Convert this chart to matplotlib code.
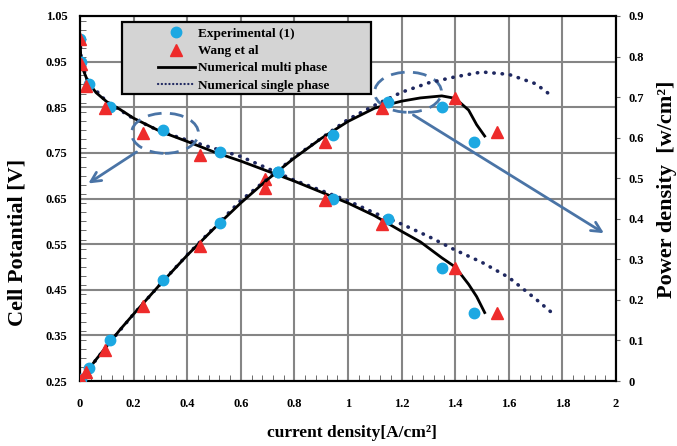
import matplotlib
matplotlib.use("Agg")
import matplotlib.pyplot as plt
from matplotlib.patches import Ellipse, Rectangle
from matplotlib.ticker import MultipleLocator, FuncFormatter
from matplotlib.lines import Line2D

plt.rcParams['font.family'] = ['Liberation Serif', 'DejaVu Serif']
plt.rcParams['font.weight'] = 'bold'

# experimental (1): current density, cell potential, power density
exp_i = [0.0, 0.005, 0.035, 0.112, 0.311, 0.522, 0.74, 0.945, 1.15, 1.35, 1.47]
exp_v = [1.0, 0.95, 0.90, 0.85, 0.80, 0.752, 0.709, 0.65, 0.604, 0.498, 0.40]
exp_p = [0.0, 0.005, 0.031, 0.10, 0.249, 0.39, 0.516, 0.607, 0.689, 0.676, 0.59]

# Wang et al
wang_i = [0.0, 0.003, 0.022, 0.092, 0.234, 0.448, 0.69, 0.914, 1.127, 1.40, 1.555]
wang_v = [1.0, 0.945, 0.897, 0.848, 0.794, 0.745, 0.692, 0.646, 0.594, 0.497, 0.398]
wang_p = [0.0, 0.003, 0.021, 0.077, 0.185, 0.332, 0.477, 0.59, 0.672, 0.697, 0.615]

# numerical multi phase
mp_i = [0, 0.003, 0.01, 0.03, 0.06, 0.1, 0.15, 0.2, 0.3, 0.4, 0.5, 0.6, 0.7, 0.8,
        0.9, 1.0, 1.1, 1.2, 1.27, 1.35, 1.4, 1.45, 1.48, 1.51]
mp_v = [1.0, 0.96, 0.935, 0.905, 0.882, 0.862, 0.845, 0.826, 0.797, 0.775, 0.752,
        0.732, 0.71, 0.688, 0.664, 0.64, 0.612, 0.578, 0.555, 0.52, 0.5, 0.462,
        0.435, 0.40]
mp_p = [0, 0.003, 0.009, 0.027, 0.053, 0.086, 0.127, 0.165, 0.239, 0.31, 0.376,
        0.439, 0.497, 0.55, 0.598, 0.64, 0.673, 0.69, 0.698, 0.703, 0.697, 0.668,
        0.632, 0.604]

# numerical single phase
sp_i = [0, 0.005, 0.03, 0.1, 0.2, 0.3, 0.4, 0.6, 0.8, 1.0, 1.1, 1.2, 1.3, 1.4,
        1.5, 1.6, 1.7, 1.76]
sp_v = [1.0, 0.95, 0.905, 0.862, 0.825, 0.797, 0.778, 0.742, 0.69, 0.645, 0.618,
        0.594, 0.567, 0.537, 0.51, 0.477, 0.43, 0.40]
sp_p = [0, 0.005, 0.027, 0.086, 0.165, 0.239, 0.311, 0.445, 0.552, 0.645, 0.68,
        0.712, 0.735, 0.75, 0.762, 0.756, 0.733, 0.703]

blue = '#1ca8e2'
red = '#ee2b2b'
navy = '#1f2860'
note = '#4a74a6'
gridc = '#858585'

fig = plt.figure(figsize=(6.77, 4.46), dpi=100)
ax = fig.add_axes([80 / 677, 65 / 446, 536 / 677, 365 / 446])
ax2 = ax.twinx()

ax.set_xlim(0, 2)
ax.set_ylim(0.25, 1.05)
ax2.set_ylim(0, 0.9)

ax.xaxis.set_major_locator(MultipleLocator(0.2))
ax.xaxis.set_minor_locator(MultipleLocator(0.04))
ax.yaxis.set_minor_locator(MultipleLocator(0.02))
ax.set_yticks([0.25 + 0.1 * k for k in range(9)])
ax2.yaxis.set_major_locator(MultipleLocator(0.1))

ax.xaxis.set_major_formatter(FuncFormatter(lambda v, p: '%g' % round(v, 2)))
ax.yaxis.set_major_formatter(FuncFormatter(lambda v, p: '%.2f' % v))
ax2.yaxis.set_major_formatter(FuncFormatter(lambda v, p: '%g' % round(v, 2)))

ax.grid(True, which='major', color=gridc, lw=1.5)
ax.set_axisbelow(True)

ax.tick_params(axis='x', which='both', direction='in', labelsize=9, pad=12)
ax.tick_params(axis='x', which='major', length=0)
ax.tick_params(axis='x', which='minor', length=4, color='#555555')
ax.tick_params(axis='y', which='major', direction='in', length=0, labelsize=9, pad=9)
ax.tick_params(axis='y', which='minor', direction='in', length=4, color='#555555')
ax2.tick_params(axis='y', direction='out', length=3, labelsize=9, pad=6, color='#666666')

for a in (ax, ax2):
    for s in a.spines.values():
        s.set_linewidth(1.5)
        s.set_color('black')

# polarization curves (left axis)
ax.plot(sp_i, sp_v, color=navy, lw=2.6, ls=(0, (0.1, 2.2)), dash_capstyle='round', zorder=3)
ax.plot(mp_i, mp_v, color='black', lw=2, zorder=4)
ax.plot(exp_i, exp_v, 'o', color=blue, ms=7.5, zorder=5)
ax.plot(wang_i, wang_v, '^', color=red, ms=9, zorder=6)

# power density curves (right axis)
ax2.plot(sp_i, sp_p, color=navy, lw=2.6, ls=(0, (0.1, 2.2)), dash_capstyle='round', zorder=3)
ax2.plot(mp_i, mp_p, color='black', lw=2, zorder=4)
ax2.plot(exp_i, exp_p, 'o', color=blue, ms=7.5, zorder=5)
ax2.plot(wang_i, wang_p, '^', color=red, ms=9, zorder=6)

# dashed ellipses with arrows pointing at the matching axis
for cx, cy in [(0.317, 0.793), (1.224, 0.883)]:
    ax.add_patch(Ellipse((cx, cy), 0.25, 0.088, fill=False, ec=note, lw=2,
                         ls=(0, (5, 3)), zorder=7))
ax.annotate('', xy=(0.031, 0.683), xytext=(0.211, 0.752),
            arrowprops=dict(arrowstyle='->,head_length=0.7,head_width=0.35',
                            color=note, lw=2, shrinkA=0, shrinkB=0), zorder=7)
ax.annotate('', xy=(1.955, 0.574), xytext=(1.244, 0.833),
            arrowprops=dict(arrowstyle='->,head_length=0.7,head_width=0.35',
                            color=note, lw=2, shrinkA=0, shrinkB=0), zorder=7)

# legend on a grey box
ax2.add_patch(Rectangle((0.0784, 0.786), 0.4646, 0.1976, transform=ax2.transAxes,
                        facecolor='#d4d4d4', edgecolor='black', lw=1.6, zorder=8))
handles = [
    Line2D([], [], ls='none', marker='o', color=blue, ms=7.5),
    Line2D([], [], ls='none', marker='^', color=red, ms=9),
    Line2D([], [], color='black', lw=2),
    Line2D([], [], color=navy, lw=1.6, ls=(0, (0.1, 1.6)), dash_capstyle='round'),
]
labels = ['Experimental (1)', 'Wang et al', 'Numerical multi phase',
          'Numerical single phase']
leg = ax2.legend(handles, labels, loc='upper left', bbox_to_anchor=(0.1455, 0.968),
                 frameon=False, fontsize=9.5, handlelength=2.8, handletextpad=0.2,
                 labelspacing=0.38, borderpad=0, borderaxespad=0)
leg.set_zorder(9)

fig.text(18 / 677, 1 - 242 / 446, 'Cell Potantial [V]', rotation=90,
         ha='center', va='center', fontsize=16)
fig.text(667 / 677, 1 - 189 / 446, 'Power density  [w/cm²]', rotation=90,
         ha='center', va='center', fontsize=16)
fig.text(352 / 677, 1 - 433 / 446, 'current density[A/cm²]',
         ha='center', va='center', fontsize=12.5)

fig.savefig('out.png', dpi=100)
